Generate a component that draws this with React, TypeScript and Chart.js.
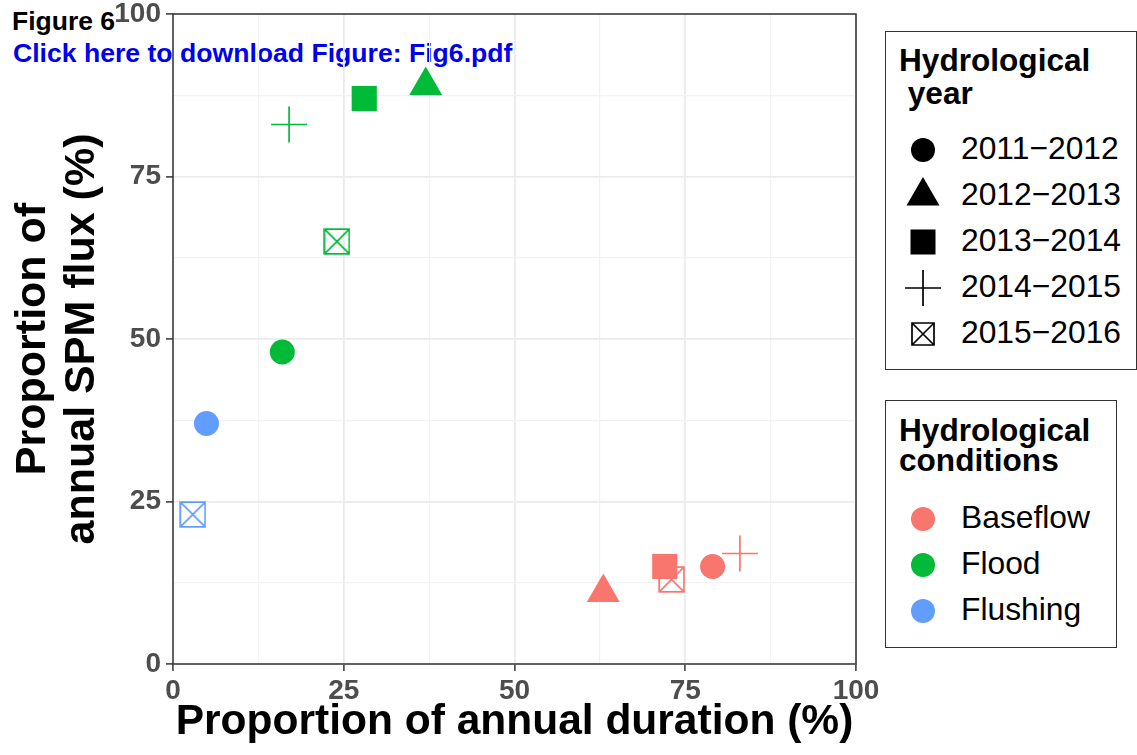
import React, { useEffect, useRef } from "react";
import { Chart, registerables } from "chart.js";

Chart.register(...registerables);

// ---------- data ----------
const YEARS = ["2011\u22122012", "2012\u22122013", "2013\u22122014", "2014\u22122015", "2015\u22122016"];
const CONDITIONS = ["Baseflow", "Flood", "Flushing"];

const baseflowYears = ["2011\u22122012", "2012\u22122013", "2013\u22122014", "2014\u22122015", "2015\u22122016"];
const baseflowDuration = [79, 63, 72, 83, 73];
const baseflowFlux = [15, 11, 15, 17, 13];

const floodYears = ["2011\u22122012", "2012\u22122013", "2013\u22122014", "2014\u22122015", "2015\u22122016"];
const floodDuration = [16, 37, 28, 17, 24];
const floodFlux = [48, 89, 87, 83, 65];

const flushingYears = ["2011\u22122012", "2015\u22122016"];
const flushingDuration = [4.9, 2.9];
const flushingFlux = [37, 23];

const X_TICKS = [0, 25, 50, 75, 100];
const Y_TICKS = [0, 25, 50, 75, 100];

// ---------- styles ----------
const COLORS = ["#F8766D", "#00BA38", "#619CFF"];
const SHAPES = ["circle", "triangle", "rect", "cross", "boxx"];
const FONT = "'Liberation Sans', Arial, Helvetica, sans-serif";

function makeBoxX(color: string, size = 27, lw = 1.7): HTMLCanvasElement {
  const c = document.createElement("canvas");
  c.width = size;
  c.height = size;
  const ctx = c.getContext("2d")!;
  ctx.strokeStyle = color;
  ctx.lineWidth = lw;
  const a = lw / 2 + 0.3;
  const b = size - a;
  ctx.strokeRect(a, a, b - a, b - a);
  ctx.beginPath();
  ctx.moveTo(a, a);
  ctx.lineTo(b, b);
  ctx.moveTo(b, a);
  ctx.lineTo(a, b);
  ctx.stroke();
  return c;
}

function shapeOf(year: string) {
  return SHAPES[YEARS.indexOf(year)];
}

function pointStyleFor(year: string, color: string): any {
  const s = shapeOf(year);
  if (s === "boxx") return makeBoxX(color);
  return s;
}
function radiusFor(year: string) {
  const s = shapeOf(year);
  if (s === "circle") return 12.5;
  if (s === "triangle") return 19;
  if (s === "rect") return 17.8;
  if (s === "cross") return 18;
  return 13;
}
function borderFor(year: string) {
  const s = shapeOf(year);
  return s === "cross" ? 1.7 : 0;
}

function makeDataset(label: string, color: string, years: string[], xs: number[], ys: number[]) {
  return {
    label,
    data: xs.map((x, i) => ({ x, y: ys[i] })),
    backgroundColor: color,
    borderColor: color,
    pointBackgroundColor: color,
    pointBorderColor: color,
    pointStyle: years.map((y) => pointStyleFor(y, color)),
    pointRadius: years.map(radiusFor),
    pointBorderWidth: years.map(borderFor),
    showLine: false,
  };
}

const panelBorder = {
  id: "panelBorder",
  afterDraw(chart: any) {
    const { ctx, chartArea } = chart;
    ctx.save();
    ctx.strokeStyle = "#333333";
    ctx.lineWidth = 1.5;
    ctx.strokeRect(chartArea.left, chartArea.top, chartArea.right - chartArea.left, chartArea.bottom - chartArea.top);
    ctx.restore();
  },
};

function isMajor(v: number, ticks: number[]) {
  return ticks.indexOf(v) >= 0;
}

function LegendSymbol({ shape, color, cx, cy }: { shape: string; color: string; cx: number; cy: number }) {
  const size = 40;
  const h = size / 2;
  let el: any = null;
  if (shape === "circle") el = <circle cx={h} cy={h} r={12} fill={color} />;
  else if (shape === "triangle")
    el = <polygon points={`${h},${h - 19} ${h + 16.5},${h + 9.5} ${h - 16.5},${h + 9.5}`} fill={color} />;
  else if (shape === "rect") el = <rect x={h - 12.5} y={h - 12.5} width={25} height={25} fill={color} />;
  else if (shape === "cross")
    el = (
      <path d={`M${h} ${h - 18} L${h} ${h + 18} M${h - 18} ${h} L${h + 18} ${h}`} stroke={color} strokeWidth={1.7} fill="none" />
    );
  else if (shape === "boxx")
    el = (
      <path
        d={`M${h - 11} ${h - 11} H${h + 11} V${h + 11} H${h - 11} Z M${h - 11} ${h - 11} L${h + 11} ${h + 11} M${h + 11} ${h - 11} L${h - 11} ${h + 11}`}
        stroke={color}
        strokeWidth={1.7}
        fill="none"
      />
    );
  return (
    <svg width={size} height={size} style={{ position: "absolute", left: cx - h, top: cy - h }}>
      {el}
    </svg>
  );
}

function Txt({ x, baseline, size, bold, children, color }: any) {
  return (
    <div
      style={{
        position: "absolute",
        left: x,
        top: baseline - 0.8465 * size,
        fontFamily: FONT,
        fontSize: size,
        lineHeight: `${size}px`,
        fontWeight: bold ? "bold" : "normal",
        color: color || "#000",
        whiteSpace: "pre",
      }}
    >
      {children}
    </div>
  );
}

export default function App() {
  const ref = useRef<HTMLCanvasElement | null>(null);

  useEffect(() => {
    if (!ref.current) return;
    const chart = new Chart(ref.current, {
      type: "scatter",
      data: {
        datasets: [
          makeDataset(CONDITIONS[0], COLORS[0], baseflowYears, baseflowDuration, baseflowFlux),
          makeDataset(CONDITIONS[1], COLORS[1], floodYears, floodDuration, floodFlux),
          makeDataset(CONDITIONS[2], COLORS[2], flushingYears, flushingDuration, flushingFlux),
        ] as any,
      },
      options: {
        animation: false,
        responsive: false,
        maintainAspectRatio: false,
        devicePixelRatio: 1,
        layout: { autoPadding: false, padding: { top: 14, right: 281, left: 0, bottom: 0 } },
        plugins: { legend: { display: false }, tooltip: { enabled: false } },
        events: [],
        scales: {
          x: {
            type: "linear",
            min: 0,
            max: 100,
            afterFit: (s: any) => {
              s.height = 91;
              s.paddingLeft = 0;
              s.paddingRight = 0;
            },
            ticks: {
              stepSize: 12.5,
              autoSkip: false,
              maxRotation: 0,
              padding: 3,
              color: "#4D4D4D",
              font: { family: FONT, size: 28, weight: "bold" },
              callback: (v: any) => (isMajor(Number(v), X_TICKS) ? String(v) : ""),
            },
            grid: {
              color: (c: any) => (c.tick && isMajor(c.tick.value, X_TICKS) ? "#EBEBEB" : "#F2F2F2"),
              lineWidth: (c: any) => (c.tick && isMajor(c.tick.value, X_TICKS) ? 1.8 : 1.2),
              tickColor: (c: any) => (c.tick && isMajor(c.tick.value, X_TICKS) ? "#333333" : "rgba(0,0,0,0)"),
              tickLength: 7,
              tickWidth: 1.5,
              drawTicks: true,
            },
            border: { display: false },
            title: {
              display: true,
              text: "Proportion of annual duration (%)",
              color: "#000",
              font: { family: FONT, size: 42.5, weight: "bold", lineHeight: 1.2 },
              padding: { top: 0, bottom: 7 },
            },
          },
          y: {
            type: "linear",
            min: 0,
            max: 100,
            afterFit: (s: any) => {
              s.width = 173;
              s.paddingTop = 0;
              s.paddingBottom = 0;
            },
            ticks: {
              stepSize: 12.5,
              autoSkip: false,
              padding: 5,
              color: "#4D4D4D",
              font: { family: FONT, size: 28, weight: "bold" },
              callback: (v: any) => (isMajor(Number(v), Y_TICKS) ? String(v) : ""),
            },
            grid: {
              color: (c: any) => (c.tick && isMajor(c.tick.value, Y_TICKS) ? "#EBEBEB" : "#F2F2F2"),
              lineWidth: (c: any) => (c.tick && isMajor(c.tick.value, Y_TICKS) ? 1.8 : 1.2),
              tickColor: (c: any) => (c.tick && isMajor(c.tick.value, Y_TICKS) ? "#333333" : "rgba(0,0,0,0)"),
              tickLength: 7,
              tickWidth: 1.5,
              drawTicks: true,
            },
            border: { display: false },
            title: {
              display: true,
              text: ["Proportion of", "annual SPM flux (%)"],
              color: "#000",
              font: { family: FONT, size: 43, weight: "bold", lineHeight: 1.14 },
              padding: { top: 9, bottom: 0 },
            },
          },
        },
      },
      plugins: [panelBorder],
    });
    return () => chart.destroy();
  }, []);

  const rowY = [150, 196, 242, 288, 334];
  const condY = [519, 565, 611];

  return (
    <div style={{ position: "fixed", left: 0, top: 0, width: 1137, height: 755, background: "#fff", overflow: "hidden" }}>
      <Txt x={12} baseline={30} size={26.5} bold>
        Figure 6
      </Txt>
      <Txt x={13} baseline={63} size={26.6} bold color="#0000F0">
        Click here to download Figure: Fig6.pdf
      </Txt>
      <canvas ref={ref} width={1137} height={755} style={{ position: "absolute", left: 0, top: 0, width: 1137, height: 755 }} />

      {/* Legend: Hydrological year */}
      <div
        style={{
          position: "absolute",
          left: 885,
          top: 31,
          width: 252,
          height: 339,
          border: "1.5px solid #333",
          boxSizing: "border-box",
          background: "#fff",
        }}
      />
      <Txt x={899} baseline={72} size={31.6} bold>
        Hydrological
      </Txt>
      <Txt x={899} baseline={105} size={31.6} bold>
        {" year"}
      </Txt>
      {YEARS.map((y, i) => (
        <React.Fragment key={y}>
          <LegendSymbol shape={SHAPES[i]} color="#000" cx={923} cy={rowY[i]} />
          <Txt x={961} baseline={rowY[i] + 10} size={31.8}>
            {y}
          </Txt>
        </React.Fragment>
      ))}

      {/* Legend: Hydrological conditions */}
      <div
        style={{
          position: "absolute",
          left: 885,
          top: 400,
          width: 232,
          height: 248,
          border: "1.5px solid #333",
          boxSizing: "border-box",
          background: "#fff",
        }}
      />
      <Txt x={899} baseline={442} size={31.6} bold>
        Hydrological
      </Txt>
      <Txt x={899} baseline={472} size={31.6} bold>
        conditions
      </Txt>
      {CONDITIONS.map((c, i) => (
        <React.Fragment key={c}>
          <LegendSymbol shape="circle" color={COLORS[i]} cx={923} cy={condY[i]} />
          <Txt x={961} baseline={condY[i] + 10} size={31.8}>
            {c}
          </Txt>
        </React.Fragment>
      ))}
    </div>
  );
}
